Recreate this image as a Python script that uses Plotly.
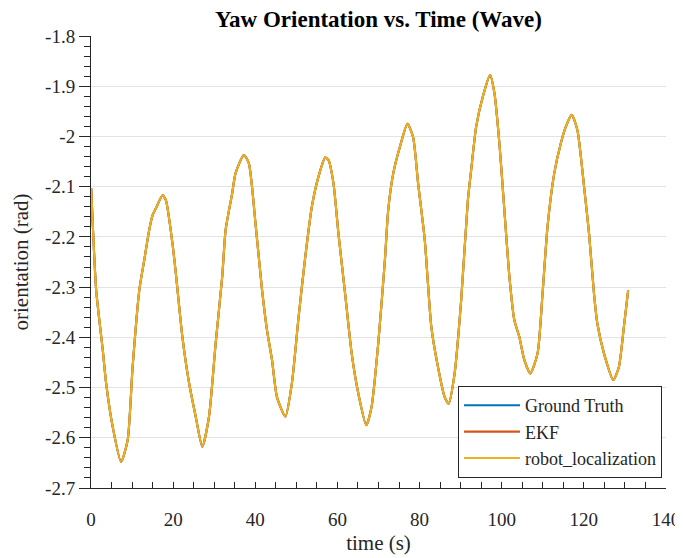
import plotly.graph_objects as go

# time (s)
time_s = [0.05, 1.26, 2.86, 3.68, 5.28, 7.32, 8.92, 10.13, 11.76, 12.97, 14.18, 14.98, 15.81,
          17.41, 18.23, 19.83, 20.65, 22.25, 23.88, 25.5, 27.1, 28.73, 30.35, 31.95, 32.78,
          34.38, 35.2, 37.21, 38.42, 40.05, 41.65, 42.86, 44.07, 45.28, 47.32, 48.92, 50.55,
          52.17, 53.77, 55.39, 57.02, 57.82, 59.03, 60.24, 61.87, 63.47, 65.09, 67.03, 68.32,
          69.94, 71.56, 72.36, 73.58, 75.2, 77.04, 78.42, 79.64, 81.26, 82.86, 84.48, 86.11,
          87.08, 88.53, 90.13, 91.76, 92.56, 93.77, 95.39, 97.16, 98.23, 99.44, 100.65, 101.87,
          103.08, 104.29, 105.5, 106.96, 108.73, 109.94, 111.15, 112.78, 114.38, 115.59, 117.04,
          118.42, 120.05, 121.26, 122.47, 123.27, 124.9, 127.15, 128.53, 129.75, 130.79]

# robot_localization yaw (rad)
robot_yaw = [-2.103, -2.306, -2.425, -2.491, -2.578, -2.648, -2.605, -2.459, -2.306, -2.246,
             -2.186, -2.157, -2.143, -2.117, -2.127, -2.213, -2.272, -2.399, -2.491, -2.558,
             -2.618, -2.558, -2.412, -2.279, -2.186, -2.113, -2.073, -2.037, -2.053, -2.173,
             -2.306, -2.386, -2.445, -2.519, -2.558, -2.491, -2.359, -2.24, -2.14, -2.08,
             -2.042, -2.047, -2.093, -2.193, -2.313, -2.432, -2.512, -2.575, -2.538, -2.412,
             -2.246, -2.147, -2.074, -2.021, -1.975, -2.001, -2.093, -2.206, -2.379, -2.459,
             -2.519, -2.532, -2.472, -2.326, -2.127, -2.067, -1.981, -1.921, -1.878, -1.914,
             -2.014, -2.147, -2.279, -2.366, -2.399, -2.445, -2.472, -2.432, -2.313, -2.18,
             -2.074, -2.014, -1.981, -1.957, -1.987, -2.1, -2.193, -2.313, -2.372, -2.432,
             -2.485, -2.459, -2.379, -2.306]

# EKF and ground truth overlap the robot_localization curve everywhere
ekf_yaw = list(robot_yaw)
ground_truth_yaw = list(robot_yaw)

y_tick_vals = [-1.8, -1.9, -2.0, -2.1, -2.2, -2.3, -2.4, -2.5, -2.6, -2.7]
y_tick_text = ["-1.8", "-1.9", "-2", "-2.1", "-2.2", "-2.3", "-2.4", "-2.5", "-2.6", "-2.7"]
x_tick_vals = [0, 20, 40, 60, 80, 100, 120, 140]

FONT = "Liberation Serif, Times New Roman, serif"
AX = "#262626"

# the page body adds an 8px offset, so the figure is 8px smaller than the window
W, H = 675, 550
L, R, T, B = 83, 17, 28, 70

fig = go.Figure()
fig.add_trace(go.Scatter(x=time_s, y=ground_truth_yaw, mode="lines", name="Ground Truth",
                         line=dict(color="#0072BD", width=2.1, shape="spline", smoothing=0.6)))
fig.add_trace(go.Scatter(x=time_s, y=ekf_yaw, mode="lines", name="EKF",
                         line=dict(color="#D95319", width=2.1, shape="spline", smoothing=0.6)))
fig.add_trace(go.Scatter(x=time_s, y=robot_yaw, mode="lines", name="robot_localization",
                         line=dict(color="#EDB120", width=2.1, shape="spline", smoothing=0.6)))

pw = W - L - R
fig.update_layout(
    width=W, height=H,
    margin=dict(l=L, r=R, t=T, b=B),
    paper_bgcolor="white", plot_bgcolor="white",
    font=dict(family=FONT, color=AX),
    title=dict(text="Yaw Orientation vs. Time (Wave)", x=(L + pw / 2) / W, xanchor="center",
               y=1 - 3 / H, yanchor="top", yref="container", pad=dict(t=0, b=0),
               font=dict(family=FONT, size=23, color="black", weight="bold")),
    showlegend=True,
    legend=dict(x=(654 - L) / pw, xanchor="right", y=0.022, yanchor="bottom",
                bgcolor="white", bordercolor=AX, borderwidth=1,
                font=dict(family=FONT, size=18, color=AX),
                itemwidth=56, tracegroupgap=0),
    xaxis=dict(range=[0, 140], tickvals=x_tick_vals, showgrid=False, zeroline=False,
               automargin=False,
               showline=True, linecolor=AX, linewidth=1,
               ticks="inside", ticklen=6, tickcolor=AX,
               minor=dict(dtick=5, tick0=0, ticks="inside", ticklen=6, tickcolor=AX, showgrid=False),
               tickfont=dict(family=FONT, size=19, color=AX), ticklabelstandoff=14,
               title=dict(text="time (s)", font=dict(family=FONT, size=21, color=AX), standoff=6)),
    yaxis=dict(range=[-2.7, -1.8], tickvals=y_tick_vals, ticktext=y_tick_text,
               automargin=False,
               showgrid=True, gridcolor="#e3e3e3", gridwidth=1, zeroline=False,
               showline=True, linecolor=AX, linewidth=1,
               ticks="outside", ticklen=11, tickcolor=AX,
               minor=dict(dtick=0.02, tick0=-1.8, ticks="outside", ticklen=6, tickcolor=AX, showgrid=False),
               tickfont=dict(family=FONT, size=19, color=AX),
               title=dict(text="orientation (rad)", font=dict(family=FONT, size=21, color=AX), standoff=10)),
)

fig.write_html("out.html")
